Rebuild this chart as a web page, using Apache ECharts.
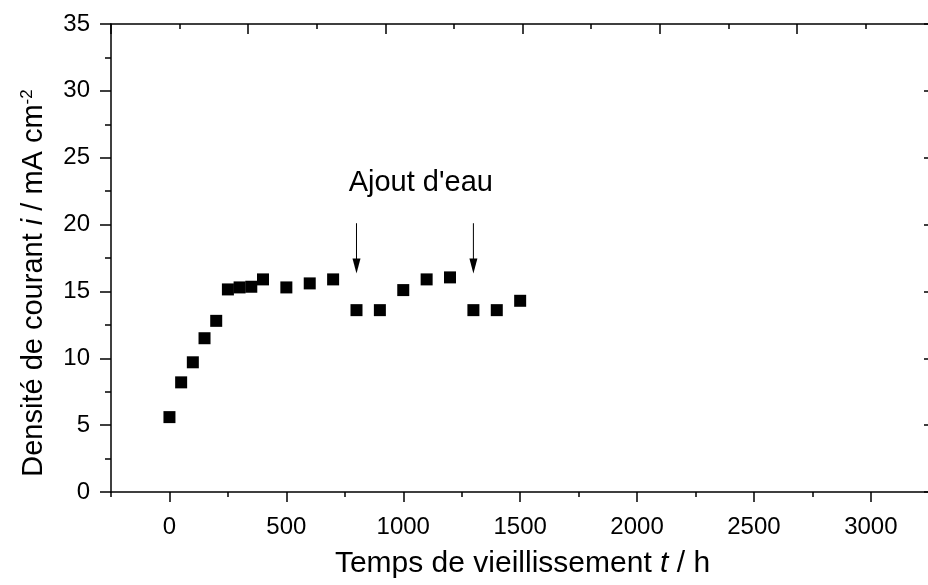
<!DOCTYPE html>
<html>
<head>
<meta charset="utf-8">
<script src="https://cdn.jsdelivr.net/npm/echarts@6/dist/echarts.min.js"></script>
<style>html,body{margin:0;padding:0;background:#fff}#c{width:928px;height:585px}</style>
</head>
<body>
<div id="c"></div>
<script>
// Data
const times = [0, 50, 100, 150, 200, 250, 300, 350, 400, 500, 600, 700, 800, 900, 1000, 1100, 1200, 1300, 1400, 1500];
const density = [5.6, 8.2, 9.7, 11.5, 12.8, 15.15, 15.3, 15.35, 15.9, 15.3, 15.6, 15.9, 13.6, 13.6, 15.1, 15.9, 16.05, 13.6, 13.6, 14.3];
const arrowTimes = [800, 1300];
const arrowStart = [20.1, 20.1];
const arrowTip = [16.35, 16.35];
const annotationText = "Ajout d'eau";
const annotationPos = [1075, 23.1];
const xMajorTicks = [0, 500, 1000, 1500, 2000, 2500, 3000];
const xMinorTicks = [-250, 250, 750, 1250, 1750, 2250, 2750, 3250];

const FONT = "'Liberation Sans', Arial, Helvetica, sans-serif";
const chart = echarts.init(document.getElementById('c'), null, {renderer: 'canvas'});

const ls = () => ({color: '#000', width: 1.5});

const option = {
  animation: false,
  backgroundColor: '#fff',
  grid: {left: 111, top: 24, width: 823, height: 468, containLabel: false, outerBoundsMode: 'none'},
  xAxis: [
    {
      type: 'value', position: 'bottom', min: -250, max: 3270,
      axisLine: {show: true, onZero: false, lineStyle: ls()},
      axisTick: {show: true, customValues: xMajorTicks, length: 10, lineStyle: ls()},
      axisLabel: {show: true, customValues: xMajorTicks, margin: 23, fontSize: 24, color: '#000', fontFamily: FONT,
        formatter: function (v) { return String(v); }},
      splitLine: {show: false},
      name: '{n|Temps de vieillissement }{it|t}{n| / h}',
      nameLocation: 'middle', nameGap: 57,
      nameTextStyle: {
        rich: {
          n: {fontSize: 30, fontFamily: FONT, color: '#000'},
          it: {fontSize: 30, fontFamily: FONT, fontStyle: 'italic', color: '#000'}
        }
      }
    },
    {
      type: 'value', position: 'bottom', min: -250, max: 3270,
      axisLine: {show: false, onZero: false},
      axisTick: {show: true, customValues: xMinorTicks, length: 5, lineStyle: ls()},
      axisLabel: {show: false},
      splitLine: {show: false}
    },
    {
      type: 'value', position: 'top', min: 0, max: 12, interval: 2,
      axisLine: {show: true, onZero: false, lineStyle: ls()},
      axisTick: {show: true, inside: true, length: 10, lineStyle: ls()},
      minorTick: {show: true, splitNumber: 2, length: 5, lineStyle: ls()},
      axisLabel: {show: false},
      splitLine: {show: false},
      minorSplitLine: {show: false}
    }
  ],
  yAxis: [
    {
      type: 'value', position: 'left', min: 0, max: 35, interval: 5,
      axisLine: {show: true, onZero: false, lineStyle: ls()},
      axisTick: {show: true, length: 11, lineStyle: ls()},
      minorTick: {show: true, splitNumber: 2, length: 6, lineStyle: ls()},
      axisLabel: {margin: 21, fontSize: 24, color: '#000', fontFamily: FONT},
      splitLine: {show: false},
      minorSplitLine: {show: false},
      name: '{n|Densité de courant }{it|i}{n| / mA cm}{sup|-2}',
      nameLocation: 'middle', nameGap: 63,
      nameTextStyle: {
        padding: [0, 50, 0, 0],
        rich: {
          n: {fontSize: 29, fontFamily: FONT, color: '#000'},
          it: {fontSize: 29, fontFamily: FONT, fontStyle: 'italic', color: '#000'},
          sup: {fontSize: 17, fontFamily: FONT, color: '#000', verticalAlign: 'top'}
        }
      }
    },
    {
      type: 'value', position: 'right', min: 0, max: 35, interval: 5,
      axisLine: {show: false, onZero: false},
      axisTick: {show: true, inside: true, length: 10, lineStyle: ls()},
      minorTick: {show: true, splitNumber: 2, length: 5, lineStyle: ls()},
      axisLabel: {show: false},
      splitLine: {show: false},
      minorSplitLine: {show: false}
    }
  ],
  series: [
    {
      type: 'scatter', xAxisIndex: 0, yAxisIndex: 0,
      symbol: 'rect', symbolSize: 12,
      itemStyle: {color: '#000', opacity: 1},
      data: times.map((t, i) => [t, density[i]]),
      z: 3
    },
    {
      type: 'custom', xAxisIndex: 0, yAxisIndex: 0, clip: false,
      data: arrowTimes.map((t, i) => [t, arrowStart[i], arrowTip[i]]),
      renderItem: function (params, api) {
        const p1 = api.coord([api.value(0), api.value(1)]);
        const p2 = api.coord([api.value(0), api.value(2)]);
        const headLen = 15, halfW = 4;
        return {
          type: 'group',
          children: [
            {type: 'line', shape: {x1: p1[0], y1: p1[1], x2: p2[0], y2: p2[1] - headLen + 1}, style: {stroke: '#000', lineWidth: 1}},
            {type: 'polygon', shape: {points: [[p2[0] - halfW, p2[1] - headLen], [p2[0] + halfW, p2[1] - headLen], [p2[0], p2[1]]]}, style: {fill: '#000'}}
          ]
        };
      }
    },
    {
      type: 'custom', xAxisIndex: 0, yAxisIndex: 0, clip: false,
      data: [annotationPos],
      renderItem: function (params, api) {
        const p = api.coord([api.value(0), api.value(1)]);
        return {
          type: 'text',
          style: {x: p[0], y: p[1], text: annotationText, align: 'center', verticalAlign: 'middle', fontSize: 29, fontFamily: FONT, fill: '#000'}
        };
      }
    }
  ]
};
chart.setOption(option);
</script>
</body>
</html>
